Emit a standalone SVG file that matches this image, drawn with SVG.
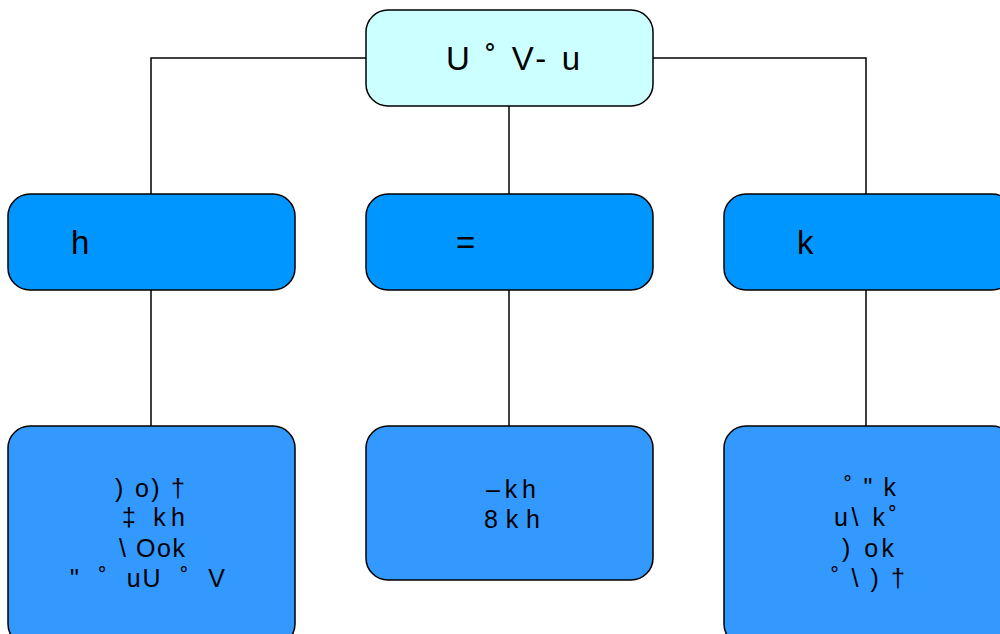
<svg xmlns="http://www.w3.org/2000/svg" width="1000" height="634" viewBox="0 0 1000 634">
  <style>
    .box { stroke: #000; stroke-width: 1.5; }
    .top { fill: #CCFFFF; }
    .mid { fill: #0096FF; }
    .low { fill: #3399FF; }
    .wire { fill: none; stroke: #000; stroke-width: 1.5; }
    text { font-family: "Liberation Sans", Arial, sans-serif; fill: #000; }
    .big { font-size: 33px; }
    .small { font-size: 25px; }
  </style>
  <rect width="1000" height="634" fill="#fff"/>

  <!-- connectors -->
  <g id="connectors">
    <path class="wire" d="M366 58 H151 V194"/>
    <path class="wire" d="M653 58 H866 V194"/>
    <path class="wire" d="M509 106 V194"/>
    <path class="wire" d="M151 290 V426"/>
    <path class="wire" d="M509 290 V426"/>
    <path class="wire" d="M866 290 V426"/>
  </g>

  <g id="root">
    <rect class="box top" x="366" y="10" width="287" height="96" rx="22"/>
    <text class="big" x="446" y="70" textLength="134" lengthAdjust="spacing" xml:space="preserve">U ˚ V- u</text>
  </g>

  <g id="branch-left">
    <rect class="box mid" x="8" y="194" width="287" height="96" rx="22"/>
    <text class="big" x="71" y="254">h</text>
  </g>
  <g id="branch-center">
    <rect class="box mid" x="366" y="194" width="287" height="96" rx="22"/>
    <text class="big" x="456" y="254">=</text>
  </g>
  <g id="branch-right">
    <rect class="box mid" x="724" y="194" width="290" height="96" rx="22"/>
    <text class="big" x="797" y="254">k</text>
  </g>

  <g id="leaf-left">
    <rect class="box low" x="8" y="426" width="287" height="220" rx="22"/>
    <text class="small" xml:space="preserve">
      <tspan x="115" y="497" textLength="70" lengthAdjust="spacing">) o) †</tspan>
      <tspan x="122" y="526" textLength="63" lengthAdjust="spacing">‡ kh</tspan>
      <tspan x="119" y="557" textLength="66" lengthAdjust="spacing">\ Ook</tspan>
      <tspan x="70" y="587" textLength="155" lengthAdjust="spacing">"  ˚  uU  ˚  V</tspan>
    </text>
  </g>
  <g id="leaf-center">
    <rect class="box low" x="366" y="426" width="287" height="154" rx="22"/>
    <text class="small">
      <tspan x="486" y="498" textLength="50" lengthAdjust="spacing">–kh</tspan>
      <tspan x="484" y="528" textLength="56" lengthAdjust="spacing">8kh</tspan>
    </text>
  </g>
  <g id="leaf-right">
    <rect class="box low" x="724" y="426" width="290" height="220" rx="22"/>
    <text class="small" xml:space="preserve">
      <tspan x="844" y="496" textLength="52" lengthAdjust="spacing">˚ " k</tspan>
      <tspan x="834" y="526" textLength="63" lengthAdjust="spacing">u\ k˚</tspan>
      <tspan x="842" y="557" textLength="52" lengthAdjust="spacing">) ok</tspan>
      <tspan x="831" y="587" textLength="74" lengthAdjust="spacing">˚ \ ) †</tspan>
    </text>
  </g>
</svg>
